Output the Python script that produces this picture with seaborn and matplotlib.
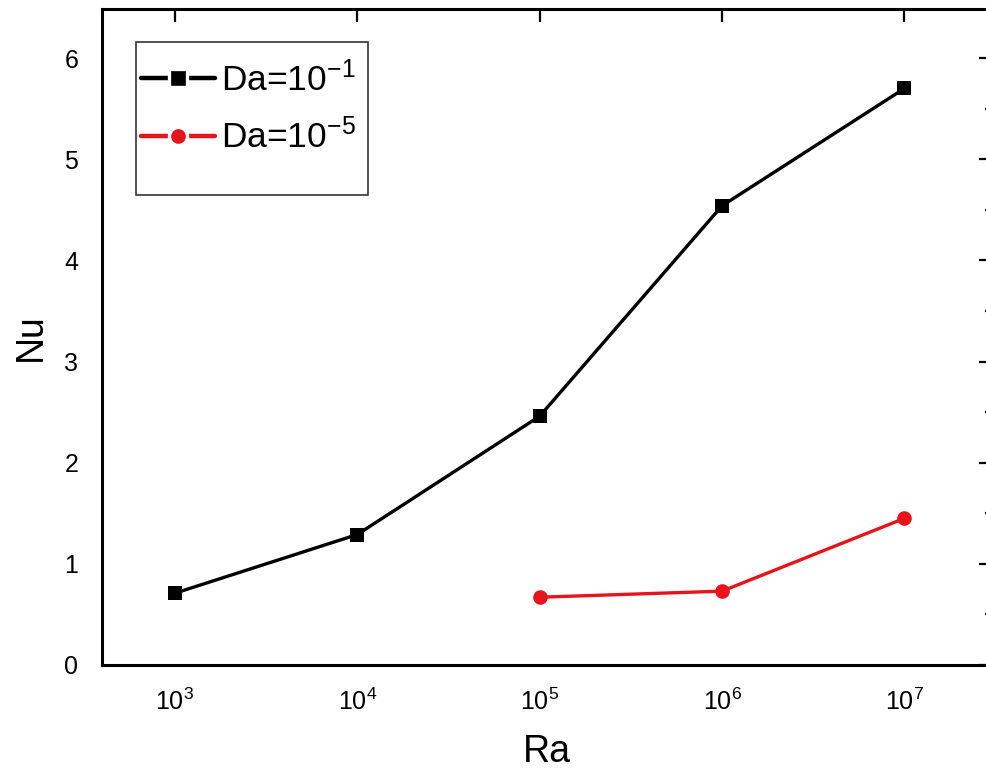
import matplotlib
matplotlib.use("Agg")
import matplotlib.pyplot as plt
import matplotlib.ticker as mticker
from matplotlib.patches import Rectangle
import numpy as np
import pandas as pd
import seaborn as sns

# Nusselt number vs Rayleigh number for two Darcy numbers
ra_high_da = [1e3, 1e4, 1e5, 1e6, 1e7]
nu_high_da = [0.71, 1.29, 2.46, 4.54, 5.70]
ra_low_da = [1e5, 1e6, 1e7]
nu_low_da = [0.67, 0.73, 1.45]
series_labels = ["Da=10$^{-1}$", "Da=10$^{-5}$"]
x_ticks = [1e3, 1e4, 1e5, 1e6, 1e7]

df = pd.concat([
    pd.DataFrame({"Ra": ra_high_da, "Nu": nu_high_da, "series": series_labels[0]}),
    pd.DataFrame({"Ra": ra_low_da, "Nu": nu_low_da, "series": series_labels[1]}),
], ignore_index=True)

sns.set_style("white")
plt.rcParams["font.family"] = ["Liberation Sans", "DejaVu Sans"]
plt.rcParams["mathtext.fontset"] = "custom"
plt.rcParams["mathtext.rm"] = "Liberation Sans"
plt.rcParams["mathtext.it"] = "Liberation Sans"
plt.rcParams["mathtext.default"] = "regular"
plt.rcParams["text.color"] = "black"
plt.rcParams["axes.labelcolor"] = "black"
plt.rcParams["xtick.color"] = "black"
plt.rcParams["ytick.color"] = "black"

fig = plt.figure(figsize=(9.87, 7.75), dpi=100)
ax = fig.add_axes([102 / 987, 110 / 775, 890 / 987, 656.5 / 775])

sns.lineplot(
    data=df, x="Ra", y="Nu", hue="series", style="series",
    palette={series_labels[0]: "black", series_labels[1]: "#e8141b"},
    markers={series_labels[0]: "s", series_labels[1]: "o"},
    dashes=False, linewidth=2.4, markersize=10.5, markeredgewidth=0,
    ax=ax, legend=True,
)

ax.set_xscale("log")
ax.set_xlim(10 ** 2.6, 10 ** 7.48)
ax.set_ylim(0, 6.49)
ax.xaxis.set_major_locator(mticker.FixedLocator(x_ticks))
ax.xaxis.set_minor_locator(mticker.NullLocator())
ax.xaxis.set_major_formatter(
    mticker.FuncFormatter(lambda v, p: "10$^{%d}$" % round(np.log10(v))))
ax.yaxis.set_major_locator(mticker.MultipleLocator(1))
ax.yaxis.set_minor_locator(mticker.MultipleLocator(0.5))

for side, sp in ax.spines.items():
    sp.set_visible(True)
    sp.set_color("black")
    sp.set_linewidth(2.2)

ax.tick_params(axis="both", which="major", length=9, width=1.6, color="black",
               labelsize=18, labelcolor="black")
ax.tick_params(axis="y", which="minor", length=5, width=1.6, color="black")
ax.tick_params(axis="x", which="both", direction="out", pad=8)
ax.tick_params(axis="y", which="both", direction="out", pad=8)
ax.tick_params(axis="x", which="both", top=True)
ax.tick_params(axis="y", which="both", right=True)
# top and right ticks point into the frame
for t in ax.xaxis.get_major_ticks():
    t.tick2line.set_marker(3)
    t.tick2line.set_markersize(9)
for t in ax.yaxis.get_major_ticks() + ax.yaxis.get_minor_ticks():
    t.tick2line.set_marker(0)
for t in ax.yaxis.get_major_ticks():
    t.tick2line.set_markersize(9.5)
for t in ax.yaxis.get_minor_ticks():
    t.tick2line.set_markersize(5)

ax.set_xlabel("Ra", fontsize=27, labelpad=14)
ax.set_ylabel("Nu", fontsize=27, labelpad=11)
ax.grid(False)

handles, labels = ax.get_legend_handles_labels()
# white edge around the legend markers leaves a small gap in the line
for h in handles:
    h.set_markersize(13)
    h.set_markeredgecolor("white")
    h.set_markeredgewidth(2.4)
    h.set_linewidth(3.2)
leg = ax.legend(
    handles, labels, loc="upper left",
    bbox_to_anchor=(141 / 987, 1 - 61 / 775), bbox_transform=fig.transFigure,
    fontsize=25.5, frameon=False,
    handlelength=2.1, handletextpad=0.15, labelspacing=0.6,
    borderaxespad=0, borderpad=0,
)
leg.set_zorder(6)

# legend box with extra blank space below the entries
x0 = 136 / 987
x1 = 368 / 987
y1 = 1 - 42 / 775
y0 = 1 - 195 / 775
ax.add_patch(Rectangle((x0, y0), x1 - x0, y1 - y0, transform=fig.transFigure,
                       facecolor="white", edgecolor="#333333", linewidth=1.2,
                       zorder=5, clip_on=False))

fig.savefig("out.png", dpi=100)
